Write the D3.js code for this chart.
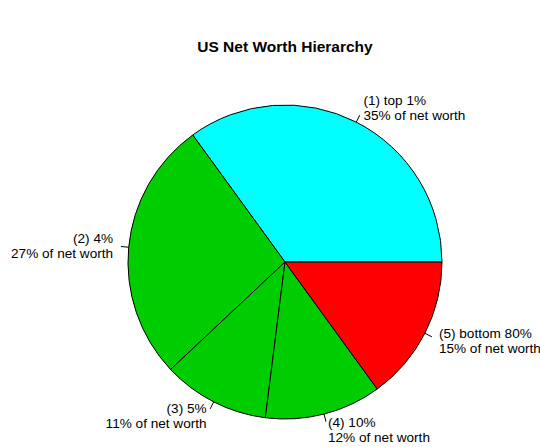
<!DOCTYPE html>
<html>
<head>
<meta charset="utf-8">
<script src="https://cdn.jsdelivr.net/npm/d3@7"></script>
<style>
  body { margin: 0; background: #fff; }
  text { font-family: "Liberation Sans", Arial, sans-serif; }
</style>
</head>
<body>
<svg id="chart"></svg>
<script>
let width = 540, height = 447;
let cx = 285, cy = 262, r = 157;

let groups = ["(1) top 1%", "(2) 4%", "(3) 5%", "(4) 10%", "(5) bottom 80%"];
let shares = [35, 27, 11, 12, 15];
let colors = ["#00FFFF", "#00CD00", "#00CD00", "#00CD00", "#FF0000"];

let svg = d3.select("#chart").attr("width", width).attr("height", height);

svg.append("text")
  .attr("x", 285).attr("y", 52)
  .attr("text-anchor", "middle")
  .style("font-weight", "bold")
  .style("font-size", "15.5px")
  .text("US Net Worth Hierarchy");

// R pie: counter-clockwise starting at 3 o'clock
let total = d3.sum(shares);
let ang = d3.scaleLinear().domain([0, total]).range([0, 2 * Math.PI]);
let cum = d3.cumsum(shares);

let g = svg.append("g").attr("transform", "translate(" + cx + "," + cy + ")");

// convert R angle (ccw from east) to d3 arc angle (cw from north)
let toD3 = a => Math.PI / 2 - a;
let arc = d3.arc().innerRadius(0).outerRadius(r);

shares.forEach((v, i) => {
  let a0 = ang(cum[i] - v), a1 = ang(cum[i]);
  g.append("path")
    .attr("d", arc({ startAngle: toD3(a1), endAngle: toD3(a0) }))
    .attr("fill", colors[i])
    .attr("stroke", "black")
    .attr("stroke-width", 1);

  let mid = (a0 + a1) / 2;
  let px = Math.cos(mid), py = -Math.sin(mid);
  g.append("line")
    .attr("x1", r * px).attr("y1", r * py)
    .attr("x2", 1.05 * r * px).attr("y2", 1.05 * r * py)
    .attr("stroke", "black");

  let t = g.append("text")
    .attr("x", 1.1 * r * px).attr("y", 1.1 * r * py)
    .attr("text-anchor", px < 0 ? "end" : "start")
    .style("font-size", "13.6px");
  t.append("tspan").attr("x", 1.1 * r * px).attr("dy", "-0.2em").text(groups[i]);
  t.append("tspan").attr("x", 1.1 * r * px).attr("dy", "1.1em").text(v + "% of net worth");
});
</script>
</body>
</html>
